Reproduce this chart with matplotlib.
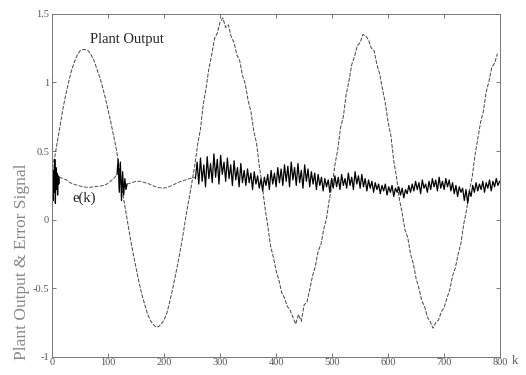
import numpy as np
import matplotlib.pyplot as plt

plt.rcParams['font.family'] = ['Liberation Serif', 'DejaVu Serif']

## Plant output, every 5 samples
plant_k = np.arange(0, 800, 5)
plant_y = [0.38, 0.46, 0.58, 0.70, 0.82, 0.92, 1.01, 1.09, 1.15, 1.20,
           1.23, 1.24, 1.24, 1.23, 1.20, 1.16, 1.10, 1.04, 0.97, 0.89,
           0.80, 0.71, 0.61, 0.51, 0.38, 0.22, 0.10, -0.02, -0.14, -0.25,
           -0.35, -0.45, -0.54, -0.61, -0.68, -0.73, -0.76, -0.78, -0.78, -0.76,
           -0.73, -0.68, -0.60, -0.51, -0.41, -0.31, -0.20, -0.08, 0.05, 0.16,
           0.28, 0.40, 0.55, 0.66, 0.84, 0.96, 1.10, 1.20, 1.32, 1.36,
           1.44, 1.47, 1.40, 1.42, 1.33, 1.29, 1.20, 1.16, 1.05, 0.99,
           0.87, 0.79, 0.65, 0.56, 0.39, 0.26, 0.09, -0.04, -0.19, -0.27,
           -0.37, -0.44, -0.53, -0.57, -0.63, -0.66, -0.71, -0.76, -0.69, -0.74,
           -0.62, -0.60, -0.51, -0.41, -0.34, -0.23, -0.18, -0.07, 0.01, 0.15,
           0.25, 0.40, 0.51, 0.67, 0.75, 0.91, 1.01, 1.13, 1.19, 1.27,
           1.29, 1.35, 1.34, 1.31, 1.25, 1.23, 1.13, 1.06, 0.95, 0.85,
           0.71, 0.61, 0.43, 0.31, 0.15, 0.05, -0.07, -0.13, -0.25, -0.32,
           -0.43, -0.50, -0.59, -0.63, -0.71, -0.74, -0.79, -0.75, -0.73, -0.67,
           -0.64, -0.57, -0.51, -0.41, -0.35, -0.25, -0.17, -0.03, 0.07, 0.21,
           0.31, 0.47, 0.59, 0.71, 0.79, 0.93, 1.01, 1.11, 1.14, 1.21]

## Error signal e(k): start-up burst, smooth stretches, second burst
e_k_start = [0, 1, 2, 3, 4, 5, 6, 7, 8, 9, 10, 11, 12, 13]
e_start = [0.30, 0.40, 0.14, 0.36, 0.20, 0.44, 0.12, 0.38, 0.22, 0.34, 0.18, 0.32, 0.26, 0.31]

e_k_smooth1 = [13, 20, 26, 32, 38, 46, 55, 65, 75, 85, 92, 98, 104, 110, 116]
e_smooth1 = [0.31, 0.30, 0.29, 0.27, 0.26, 0.25, 0.24, 0.235, 0.24, 0.245, 0.25, 0.26, 0.28, 0.30, 0.33]

e_k_burst = [116, 118, 120, 122, 124, 126, 128, 130, 132, 134]
e_burst = [0.33, 0.44, 0.20, 0.42, 0.14, 0.35, 0.18, 0.30, 0.22, 0.26]

e_k_smooth2 = [134, 142, 150, 158, 166, 174, 182, 190, 198, 206, 214, 222, 230, 238, 246, 256]
e_smooth2 = [0.26, 0.27, 0.28, 0.28, 0.27, 0.26, 0.245, 0.235, 0.23, 0.235, 0.25, 0.265, 0.28, 0.29, 0.30, 0.31]

e_noisy = [0.30, 0.42, 0.26, 0.45, 0.28, 0.40, 0.24, 0.46, 0.30, 0.41,
           0.27, 0.48, 0.31, 0.44, 0.26, 0.47, 0.33, 0.42, 0.28, 0.45,
           0.30, 0.40, 0.25, 0.43, 0.29, 0.38, 0.24, 0.41, 0.27, 0.36,
           0.25, 0.37, 0.27, 0.34, 0.22, 0.35, 0.26, 0.32, 0.23, 0.30,
           0.21, 0.31, 0.25, 0.33, 0.22, 0.36, 0.26, 0.34, 0.24, 0.38,
           0.27, 0.37, 0.25, 0.40, 0.28, 0.39, 0.24, 0.42, 0.29, 0.38,
           0.25, 0.41, 0.27, 0.36, 0.23, 0.40, 0.28, 0.37, 0.24, 0.35,
           0.26, 0.34, 0.22, 0.33, 0.25, 0.31, 0.21, 0.30, 0.24, 0.29,
           0.20, 0.30, 0.23, 0.32, 0.24, 0.31, 0.22, 0.33, 0.25, 0.30,
           0.23, 0.34, 0.25, 0.31, 0.22, 0.35, 0.26, 0.32, 0.23, 0.33,
           0.24, 0.30, 0.21, 0.29, 0.23, 0.28, 0.20, 0.27, 0.22, 0.26,
           0.19, 0.25, 0.21, 0.26, 0.18, 0.24, 0.20, 0.25, 0.17, 0.23,
           0.20, 0.24, 0.18, 0.23, 0.16, 0.22, 0.19, 0.25, 0.20, 0.26,
           0.21, 0.28, 0.22, 0.27, 0.19, 0.29, 0.23, 0.26, 0.20, 0.28,
           0.22, 0.30, 0.24, 0.29, 0.21, 0.31, 0.23, 0.28, 0.22, 0.30,
           0.24, 0.29, 0.21, 0.27, 0.19, 0.25, 0.17, 0.24, 0.20, 0.23,
           0.14, 0.22, 0.12, 0.21, 0.17, 0.25, 0.20, 0.27, 0.21, 0.26,
           0.22, 0.28, 0.20, 0.27, 0.23, 0.29, 0.21, 0.28, 0.24, 0.30,
           0.25, 0.28]
e_k_noisy = 256 + 3 * np.arange(len(e_noisy))

x_ticks = [0, 100, 200, 300, 400, 500, 600, 700, 800]
y_ticks = [-1, -0.5, 0, 0.5, 1, 1.5]
y_ticklabels = ['-1', '-0.5', '0', '0.5', '1', '1.5']

fig = plt.figure(figsize=(5.26, 3.75), dpi=100)
ax = fig.add_axes([0.0989, 0.048, 0.852, 0.915])

dash = (0, (4, 1.5))
ax.plot(plant_k, plant_y, color='#444444', lw=0.7, linestyle=dash)
ax.plot(e_k_start, e_start, color='k', lw=0.9)
ax.plot(e_k_smooth1, e_smooth1, color='#555555', lw=0.7, linestyle=dash)
ax.plot(e_k_burst, e_burst, color='k', lw=0.9)
ax.plot(e_k_smooth2, e_smooth2, color='#555555', lw=0.7, linestyle=dash)
ax.plot(e_k_noisy, e_noisy, color='k', lw=0.9)

ax.text(68, 1.31, 'Plant Output', fontsize=10.5, color='#222222', va='center')
ax.text(36, 0.16, 'e(k)', fontsize=10.5, color='#222222', va='center')

ax.set_xlim(0, 800)
ax.set_ylim(-1, 1.5)
ax.set_xticks(x_ticks)
ax.set_yticks(y_ticks)
ax.set_yticklabels(y_ticklabels)
ax.tick_params(direction='in', length=3, width=0.6, colors='#666666', labelsize=7.5,
               labelcolor='#555555', top=True, right=True, pad=2)
ax.tick_params(axis='x', pad=1)
for s in ax.spines.values():
    s.set_color('#777777')
    s.set_linewidth(0.7)
    s.set_linestyle((0, (4, 1)))

ax.set_ylabel('Plant Output & Error Signal', fontsize=12.5, color='#888888')
ax.yaxis.set_label_coords(-0.05, 0.277)
fig.text(515 / 526, 1 - 361 / 375, 'k', fontsize=9, color='#555555', ha='center', va='center')

fig.savefig('out.png', dpi=100)
